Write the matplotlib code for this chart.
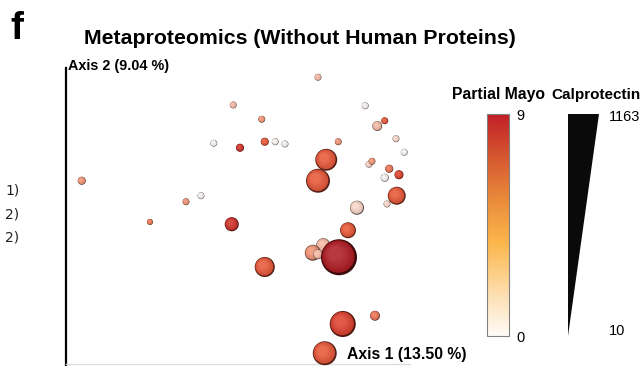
import matplotlib

matplotlib.use("Agg")
import matplotlib.pyplot as plt
import numpy as np
from matplotlib.cm import ScalarMappable
from matplotlib.colors import LinearSegmentedColormap, Normalize, to_rgb
from matplotlib.patches import Circle

# PCoA coordinates of each sample, drawn back to front.
pc1 = [-0.014, -0.127, -0.089, -0.153, -0.118, -0.085, -0.071, -0.058, 0.013, 0.049,
       0.065, 0.075, 0.090, 0.101, -0.003, -0.014, 0.054, 0.058, 0.081, 0.094,
       0.075, 0.091, 0.078, 0.038, -0.329, -0.170, -0.190, -0.238, -0.129, -0.085,
       -0.007, -0.021, -0.014, 0.026, 0.014, 0.019, 0.062, -0.005]
pc2 = [0.135, 0.098, 0.079, 0.047, 0.041, 0.049, 0.049, 0.046, 0.049, 0.097,
       0.070, 0.077, 0.053, 0.035, 0.025, -0.003, 0.019, 0.023, 0.013, 0.005,
       0.001, -0.023, -0.034, -0.039, -0.003, -0.023, -0.031, -0.058, -0.061, -0.118,
       -0.089, -0.099, -0.101, -0.069, -0.105, -0.194, -0.183, -0.233]
partial_mayo = [2, 2, 3, 0, 7, 5, 0, 0, 3, 0,
                2, 5, 1, 0, 5, 5, 1, 3, 4, 6,
                0, 5, 1, 1, 3, 0, 3, 4, 7, 5,
                2, 3, 2, 5, 9, 6, 4, 5]
calprotectin = [45, 45, 45, 45, 90, 90, 45, 45, 45, 45,
                160, 45, 45, 45, 620, 700, 45, 45, 90, 125,
                90, 470, 45, 320, 90, 45, 45, 10, 320, 550,
                320, 390, 160, 390, 1163, 780, 160, 700]

mayo_range = (0, 9)
cal_range = (10, 1163)
axis1_label = "Axis 1 (13.50 %)"
axis2_label = "Axis 2 (9.04 %)"
side_labels = ["1)", "2)", "2)"]

W, H = 642, 366
BOLD = "Liberation Sans"

point_cmap = LinearSegmentedColormap.from_list(
    "points",
    [(0.0, "#f6f1ef"), (0.12, "#f9d3c5"), (0.25, "#f6b29c"), (0.35, "#f08f70"),
     (0.55, "#e85a3b"), (0.72, "#d8392c"), (1.0, "#b01e26")],
)
bar_cmap = LinearSegmentedColormap.from_list(
    "bar",
    [(0.0, "#fffbf7"), (0.2, "#fddcaa"), (0.42, "#fbb64a"), (0.62, "#e9893a"),
     (0.82, "#d4532f"), (1.0, "#c21f27")],
)
mayo_norm = Normalize(*mayo_range)


def radius_px(cal):
    return 3.0 + 15.0 * (cal - cal_range[0]) / (cal_range[1] - cal_range[0])


def draw_sphere(ax, x, y, r, color, z):
    rgb = np.array(to_rgb(color))
    ax.add_patch(Circle((x, y), r, facecolor=rgb * 0.35, edgecolor="none", zorder=z))
    n = 6
    for k in range(n):
        f = k / (n - 1)
        rk = r * (0.9 - 0.5 * f)
        off = (r * 0.9 - rk) * 0.35 + r * 0.04
        shade = rgb * (0.9 + 0.1 * f) + (1 - rgb) * 0.12 * f
        ax.add_patch(Circle((x - off, y + off), rk, facecolor=np.clip(shade, 0, 1),
                            edgecolor="none", zorder=z + 0.01 * (k + 1)))


fig = plt.figure(figsize=(W / 100, H / 100), dpi=100)

# Main ordination panel, 750 px per unit on both axes.
ax = fig.add_axes([66 / W, 0, 375 / W, 300 / H])
ax.set_xlim(-0.35, 0.15)
ax.set_ylim(-0.25, 0.15)
ax.set_axis_off()
ax.plot([0, 0], [0, 0.993], transform=ax.transAxes, color="black", lw=1.6, clip_on=False)
ax.plot([0, (410 - 66) / 375], [2 / 300, 2 / 300], transform=ax.transAxes,
        color="#dddddd", lw=1.0, clip_on=False)

px_per_unit = 375 / 0.5
for i, (x, y, m, c) in enumerate(zip(pc1, pc2, partial_mayo, calprotectin)):
    r = radius_px(c) / px_per_unit
    draw_sphere(ax, x, y, r, point_cmap(mayo_norm(m)), z=2 + i * 0.1)

fig.text(10 / W, 1 - 29 / H, "f", fontsize=28, fontweight="heavy", family=BOLD,
         va="center", ha="left")
fig.text(300 / W, 1 - 38 / H, "Metaproteomics (Without Human Proteins)", fontsize=15.3,
         fontweight="bold", family=BOLD, va="center", ha="center")
fig.text(68 / W, 1 - 66 / H, axis2_label, fontsize=10.4, fontweight="bold", family=BOLD,
         va="center", ha="left")
fig.text(347 / W, 1 - 355 / H, axis1_label, fontsize=11.3, fontweight="bold", family=BOLD,
         va="center", ha="left")
for k, lab in enumerate(side_labels):
    fig.text(5 / W, 1 - (190 + 24 * k) / H, lab, fontsize=10, color="#222222",
             family="DejaVu Sans", va="center", ha="left")

# Partial Mayo colour bar
cax = fig.add_axes([487 / W, 1 - 336 / H, 22 / W, 222 / H])
cb = fig.colorbar(ScalarMappable(norm=mayo_norm, cmap=bar_cmap), cax=cax, ticks=list(mayo_range))
cb.outline.set_edgecolor("#808080")
cb.outline.set_linewidth(0.8)
cax.tick_params(length=0, labelsize=10.5, pad=5)
for t in cax.get_yticklabels():
    t.set_family(BOLD)
fig.text(498 / W, 1 - 95 / H, "Partial Mayo", fontsize=11.3, fontweight="bold", family=BOLD,
         va="center", ha="center")

# Calprotectin size wedge
tax = fig.add_axes([568 / W, 1 - 336 / H, 31 / W, 222 / H])
tax.set_xlim(0, 1)
tax.set_ylim(*cal_range)
tax.fill([0, 0, 1], [cal_range[0], cal_range[1], cal_range[1]], color="#0a0a0a", lw=0)
tax.set_axis_off()
tax.text(1.33, cal_range[1] - 15, str(cal_range[1]), fontsize=10.5, family=BOLD,
         va="center", ha="left")
tax.text(1.33, cal_range[0] + 25, str(cal_range[0]), fontsize=10.5, family=BOLD,
         va="center", ha="left")
fig.text(596 / W, 1 - 95 / H, "Calprotectin", fontsize=11, fontweight="bold", family=BOLD,
         va="center", ha="center")

fig.savefig("out.png", dpi=100)
